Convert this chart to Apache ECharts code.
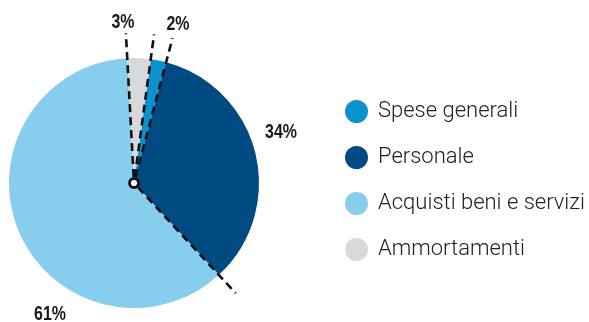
<!DOCTYPE html>
<html>
<head>
<meta charset="utf-8">
<script src="https://cdn.jsdelivr.net/npm/echarts@6/dist/echarts.min.js"></script>
<style>
  html, body { margin: 0; padding: 0; background: #fff; }
  #chart { width: 589px; height: 322px; }
</style>
</head>
<body>
<div id="chart"></div>
<script>
// Cost breakdown (percent of total)
const categories = ['Spese generali', 'Personale', 'Acquisti beni e servizi', 'Ammortamenti'];
const shares = [2, 34, 61, 3];
const colors = ['#0A91D0', '#014B82', '#87CEEE', '#D8D9DB'];

// Pie geometry and label anchors
const CX = 134, CY = 183, R = 125, RAY = 150;
const START_ANGLE = 82.3; // degrees, ECharts convention (90 = 12 o'clock)
const labelAnchors = [[178, 24], [281, 132], [50, 314], [123, 22]];

const total = shares.reduce((a, b) => a + b, 0);

// Dashed separators drawn along each slice boundary, from the hub outward
const overlay = [];
let cum = 0;
shares.forEach((v) => {
  const deg = (90 - START_ANGLE) + 360 * cum / total; // clockwise from top
  const t = deg * Math.PI / 180;
  const dx = Math.sin(t), dy = -Math.cos(t);
  overlay.push({
    type: 'line',
    z: 10,
    silent: true,
    shape: { x1: CX + dx * 6, y1: CY + dy * 6, x2: CX + dx * RAY, y2: CY + dy * RAY },
    style: { stroke: '#111', lineWidth: 2.6, lineDash: [8, 5] }
  });
  cum += v;
});

// Percentage labels in a narrow, tall bold face
shares.forEach((v, i) => {
  overlay.push({
    type: 'text',
    z: 12,
    silent: true,
    x: labelAnchors[i][0],
    y: labelAnchors[i][1],
    scaleX: 0.76,
    style: {
      text: v + '%',
      fontFamily: 'Liberation Sans',
      fontWeight: 'bold',
      fontSize: 21,
      fill: '#1a1a1a',
      align: 'center',
      verticalAlign: 'middle'
    }
  });
});

// Hub ring at the centre
overlay.push({
  type: 'circle',
  z: 11,
  silent: true,
  shape: { cx: CX, cy: CY, r: 4.5 },
  style: { fill: '#fff', stroke: '#111', lineWidth: 2.8 }
});

const chart = echarts.init(document.getElementById('chart'), null, { renderer: 'canvas' });
chart.setOption({
  animation: false,
  color: colors,
  legend: {
    orient: 'vertical',
    left: 340,
    top: 95,
    icon: 'circle',
    itemWidth: 23,
    itemHeight: 23,
    itemGap: 23,
    selectedMode: false,
    data: categories,
    textStyle: {
      fontFamily: 'Roboto',
      fontWeight: 300,
      fontSize: 22,
      color: '#222',
      padding: [0, 0, 0, 5]
    }
  },
  series: [{
    type: 'pie',
    center: [CX, CY],
    radius: [0, R],
    startAngle: START_ANGLE,
    clockwise: true,
    silent: true,
    itemStyle: { borderWidth: 0 },
    emphasis: { disabled: true },
    label: { show: false },
    labelLine: { show: false },
    data: categories.map((name, i) => ({ name, value: shares[i] }))
  }],
  graphic: overlay
});
</script>
</body>
</html>
